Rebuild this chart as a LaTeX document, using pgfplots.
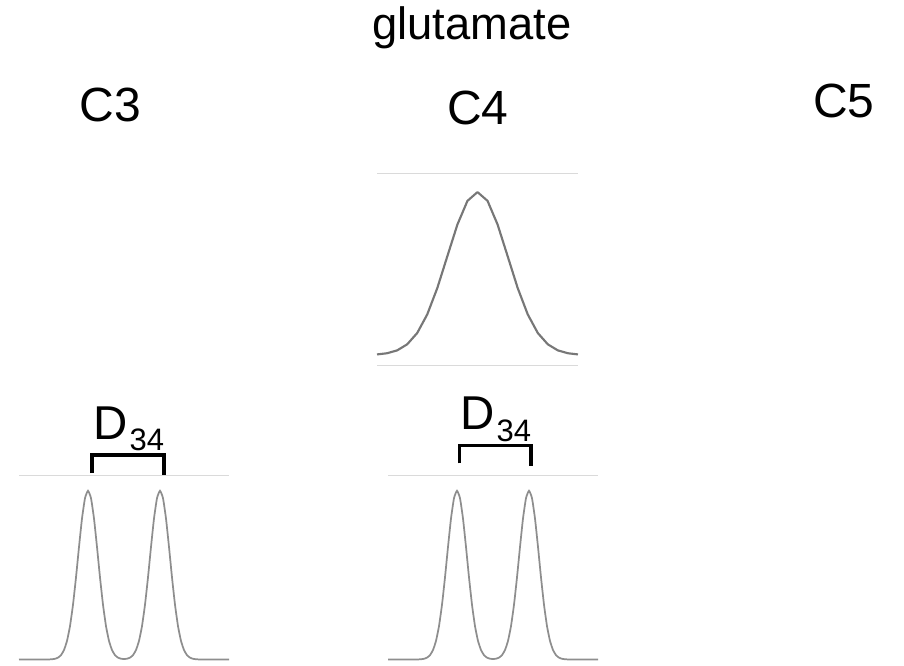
\documentclass[border=0pt]{standalone}
\usepackage{fontspec}
\setmainfont{Liberation Sans}
\usepackage{pgfplots}
\pgfplotsset{compat=1.18}
\usepackage{pgfplotstable}

\pgfplotstableread{
x y
-10 0.0039
-9 0.0111
-8 0.0286
-7 0.0657
-6 0.1353
-5 0.2494
-4 0.4111
-3 0.6065
-2 0.8007
-1 0.9460
0 1.0000
1 0.9460
2 0.8007
3 0.6065
4 0.4111
5 0.2494
6 0.1353
7 0.0657
8 0.0286
9 0.0111
10 0.0039
}\singlet

\pgfplotstableread{
x y
-105 0
-78 0.0002
-75 0.0005
-72 0.0015
-69 0.0043
-66 0.0111
-63 0.0261
-60 0.0561
-57 0.1103
-54 0.1979
-51 0.3247
-48 0.4868
-45 0.6670
-42 0.8353
-39 0.9560
-36 1.0000
-33 0.9560
-30 0.8353
-27 0.6670
-24 0.4868
-21 0.3247
-18 0.1979
-15 0.1103
-12 0.0561
-9 0.0261
-6 0.0111
-3 0.0048
0 0.0030
3 0.0048
6 0.0111
9 0.0261
12 0.0561
15 0.1103
18 0.1979
21 0.3247
24 0.4868
27 0.6670
30 0.8353
33 0.9560
36 1.0000
39 0.9560
42 0.8353
45 0.6670
48 0.4868
51 0.3247
54 0.1979
57 0.1103
60 0.0561
63 0.0261
66 0.0111
69 0.0043
72 0.0015
75 0.0005
78 0.0002
105 0
}\doublet

\definecolor{gridgray}{HTML}{DADADA}
\definecolor{curvedark}{HTML}{777777}
\definecolor{curvelight}{HTML}{8E8E8E}

\pgfplotsset{
  panel/.style={
    scale only axis, anchor=north west, hide axis, clip=false,
  },
}

\begin{document}
\begin{tikzpicture}
\path (0,0) rectangle (678pt,-498.75pt);

% top C4 singlet
\begin{axis}[panel, at={(282.75pt,-129.75pt)}, width=150.75pt, height=144pt,
  xmin=-10, xmax=10, ymin=-0.061, ymax=1.117]
  \draw[gridgray, line width=0.75pt] (axis cs:-10,1.117) -- (axis cs:10,1.117);
  \draw[gridgray, line width=0.75pt] (axis cs:-10,-0.061) -- (axis cs:10,-0.061);
  \addplot[curvedark, line width=1.6pt, line join=round] table[x=x,y=y] {\singlet};
\end{axis}

% bottom C3 doublet
\begin{axis}[panel, at={(14.25pt,-356.8pt)}, width=157.5pt, height=142pt,
  xmin=-105, xmax=105, ymin=-0.033, ymax=1.089]
  \draw[gridgray, line width=0.75pt] (axis cs:-105,1.089) -- (axis cs:105,1.089);
  \addplot[curvelight, line width=1.3pt, smooth, tension=0.3] table[x=x,y=y] {\doublet};
\end{axis}

% bottom C4 doublet
\begin{axis}[panel, at={(291pt,-356.8pt)}, width=157.5pt, height=142pt,
  xmin=-105, xmax=105, ymin=-0.033, ymax=1.089]
  \draw[gridgray, line width=0.75pt] (axis cs:-105,1.089) -- (axis cs:105,1.089);
  \addplot[curvelight, line width=1.3pt, smooth, tension=0.3] table[x=x,y=y] {\doublet};
\end{axis}

% titles
\node[anchor=base, inner sep=0pt, font=\fontsize{34}{40}\selectfont] at (354pt,-29.5pt) {glutamate};
\node[anchor=base, inner sep=0pt, font=\fontsize{36}{42}\selectfont] at (82.9pt,-91.1pt) {C3};
\node[anchor=base, inner sep=0pt, font=\fontsize{36}{42}\selectfont] at (358.5pt,-93pt) {C4};
\node[anchor=base, inner sep=0pt, font=\fontsize{36}{42}\selectfont] at (633pt,-88pt) {C5};

% D34 labels and brackets
\node[anchor=base west, inner sep=0pt, font=\fontsize{35.6}{40}\selectfont] at (69.7pt,-329.5pt) {D};
\node[anchor=base west, inner sep=0pt, font=\fontsize{23.25}{28}\selectfont] at (97pt,-338pt) {34};
\draw[black, line width=2.5pt, line join=miter] (69pt,-354.75pt) -- (69pt,-341.25pt) -- (123pt,-341.25pt) -- (123pt,-356.25pt);

\node[anchor=base west, inner sep=0pt, font=\fontsize{35.6}{40}\selectfont] at (345pt,-322pt) {D};
\node[anchor=base west, inner sep=0pt, font=\fontsize{23.25}{28}\selectfont] at (372.3pt,-331.3pt) {34};
\draw[black, line width=2.5pt, line join=miter] (344.5pt,-347.5pt) -- (344.5pt,-334.3pt) -- (398.25pt,-334.3pt) -- (398.25pt,-349.5pt);

\pgfresetboundingbox
\useasboundingbox (0,0) rectangle (678pt,-498.75pt);
\end{tikzpicture}
\end{document}
